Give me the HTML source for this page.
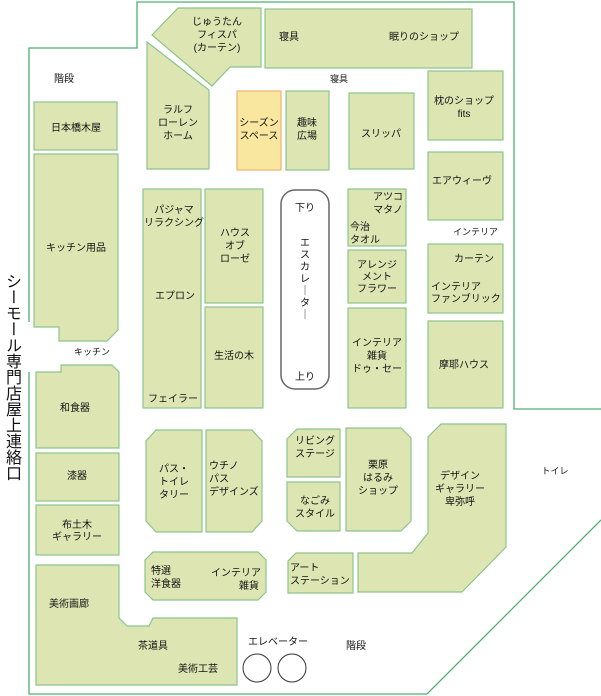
<!DOCTYPE html>
<html><head><meta charset="utf-8"><style>
html,body{margin:0;padding:0;background:#fff;}
svg{display:block;}
text{font-family:"Liberation Sans","Noto Sans CJK JP",sans-serif;font-size:10px;fill:#111;}
.s{fill:#dde6b3;stroke:#8dc48b;stroke-width:1.2;}
.vt{position:absolute;left:1px;top:273px;width:18px;font-family:"Liberation Sans","Noto Sans CJK JP",sans-serif;font-size:16px;line-height:16px;writing-mode:vertical-rl;color:#111;}
</style></head><body>
<div style="position:relative;width:601px;height:696px;overflow:hidden;">
<svg width="601" height="696" viewBox="0 0 601 696" xmlns="http://www.w3.org/2000/svg">
<g fill="none" stroke="#4fb06f" stroke-width="1.3">
<polyline points="29,322 29,48 137,48 137,2 514,2 514,409 601,409"/>
<polyline points="29,372 29,694 427,694 601,520"/>
</g>
<polygon class="s" points="152,35 178,8 261,8 261,67 230,67 212,86"/>
<rect class="s" x="265" y="9" width="207" height="59"/>
<polygon class="s" points="147,42 209,90 209,169 147,169"/>
<rect x="237" y="91" width="44" height="79" fill="#f9e79f" stroke="#f0b070" stroke-width="1.2"/>
<rect class="s" x="286" y="91" width="43" height="79"/>
<rect class="s" x="349" y="93" width="65" height="76"/>
<rect class="s" x="428" y="71" width="75" height="69"/>
<rect class="s" x="428" y="152" width="75" height="68"/>
<rect class="s" x="34" y="102" width="83" height="48"/>
<polygon class="s" points="34,154 118,154 118,330 107,341 59,341 59,327 34,327"/>
<rect class="s" x="143" y="189" width="58" height="219"/>
<rect class="s" x="205" y="189" width="58" height="114"/>
<rect class="s" x="205" y="307" width="58" height="101"/>
<rect x="281" y="190" width="48" height="199" rx="14" fill="#fff" stroke="#666" stroke-width="1.5"/>
<rect class="s" x="348" y="189" width="58" height="57"/>
<rect class="s" x="348" y="250" width="58" height="53"/>
<rect class="s" x="348" y="308" width="58" height="100"/>
<rect class="s" x="428" y="244" width="75" height="69"/>
<rect class="s" x="428" y="321" width="75" height="87"/>
<polygon class="s" points="36,372 61,372 61,365 112,365 119,372 119,448 36,448"/>
<rect class="s" x="36" y="453" width="83" height="48"/>
<rect class="s" x="36" y="505" width="83" height="50"/>
<polygon class="s" points="36,565 119,565 119,618 127,626 149,626 153,618 237,618 237,685 36,685"/>
<polygon class="s" points="156,430 202,430 202,532 156,532 146,521 146,441"/>
<polygon class="s" points="206,430 252,430 262,441 262,521 252,532 206,532"/>
<polygon class="s" points="297,429 340,429 340,477 287,477 287,439"/>
<polygon class="s" points="287,482 340,482 340,531 297,531 287,521"/>
<polygon class="s" points="346,428 401,428 411,438 411,521 401,531 346,531"/>
<polygon class="s" points="441,424 506,424 506,547 462,592 358,592 358,553 412,553 428,533 428,437"/>
<polygon class="s" points="153,552 258,552 266,560 266,592 258,600 153,600 145,592 145,560"/>
<polygon class="s" points="296,553 353,553 353,593 288,593 288,561"/>
<circle cx="257" cy="668" r="14" fill="#fff" stroke="#333" stroke-width="1"/>
<circle cx="292" cy="668" r="14" fill="#fff" stroke="#333" stroke-width="1"/>
<g text-anchor="middle">
<text x="217" y="25">じゅうたん</text><text x="217" y="38">フィスパ</text><text x="217" y="51">(カーテン)</text>
<text x="289" y="40">寝具</text><text x="424" y="40">眠りのショップ</text>
<text x="64" y="82">階段</text><text x="339" y="82" style="font-size:9px">寝具</text>
<text x="178" y="113">ラルフ</text><text x="178" y="126">ローレン</text><text x="178" y="139">ホーム</text>
<text x="259" y="126">シーズン</text><text x="259" y="139">スペース</text>
<text x="307" y="126">趣味</text><text x="307" y="139">広場</text>
<text x="381" y="137">スリッパ</text>
<text x="464" y="104">枕のショップ</text><text x="464" y="117">fits</text>
<text x="462" y="184">エアウィーヴ</text>
<text x="76" y="131">日本橋木屋</text>
<text x="76" y="251">キッチン用品</text>
<text x="174" y="213">パジャマ</text><text x="174" y="226">リラクシング</text>
<text x="175" y="299">エプロン</text><text x="173" y="402">フェイラー</text>
<text x="235" y="236">ハウス</text><text x="235" y="249">オブ</text><text x="235" y="262">ローゼ</text>
<text x="234" y="359">生活の木</text>
<text x="305" y="211">下り</text><text x="305" y="380">上り</text>
<text x="388" y="200">アツコ</text><text x="388" y="213">マタノ</text>
<text x="498" y="235" text-anchor="end" style="font-size:9px">インテリア</text>
<text x="377" y="280">メント</text><text x="377" y="268">アレンジ</text><text x="377" y="292">フラワー</text>
<text x="377" y="346">インテリア</text><text x="377" y="359">雑貨</text><text x="377" y="372">ドゥ・セー</text>
<text x="474" y="262">カーテン</text>
<text x="464" y="368">摩耶ハウス</text>
<text x="92" y="355" style="font-size:9px">キッチン</text>
<text x="75" y="411">和食器</text><text x="77" y="479">漆器</text>
<text x="77" y="528">布土木</text><text x="77" y="540">ギャラリー</text>
<text x="174" y="472">パス・</text><text x="174" y="485">トイレ</text><text x="174" y="498">タリー</text>
<text x="315" y="444">リビング</text><text x="315" y="457">ステージ</text>
<text x="315" y="504">なごみ</text><text x="315" y="517">スタイル</text>
<text x="378" y="468">栗原</text><text x="378" y="481">はるみ</text><text x="378" y="494">ショップ</text>
<text x="460" y="479">デザイン</text><text x="460" y="492">ギャラリー</text><text x="460" y="505">卑弥呼</text>
<text x="555" y="474" style="font-size:9px">トイレ</text>
<text x="278" y="645">エレベーター</text><text x="356" y="649">階段</text>
<text x="153" y="649">茶道具</text><text x="198" y="672">美術工芸</text>
</g>
<g>
<text x="350" y="230">今治</text><text x="350" y="243">タオル</text>
<text x="431" y="290">インテリア</text><text x="431" y="302">ファンブリック</text>
<text x="209" y="469">ウチノ</text><text x="209" y="482">パス</text><text x="209" y="495">デザインズ</text>
<text x="151" y="574">特選</text><text x="151" y="587">洋食器</text>
<text x="261" y="576" text-anchor="end">インテリア</text><text x="259" y="589" text-anchor="end">雑貨</text>
<text x="290" y="571">アート</text><text x="290" y="584">ステーション</text>
<text x="49" y="607">美術画廊</text>
</g>
<g text-anchor="middle">
<text x="305" y="246">エ</text><text x="305" y="258">ス</text><text x="305" y="270">カ</text><text x="305" y="282">レ</text><text x="305" y="294">｜</text><text x="305" y="306">タ</text><text x="305" y="318">｜</text>
</g>
</svg>
<div class="vt">シーモール専門店屋上連絡口</div>
</div>
</body></html>
